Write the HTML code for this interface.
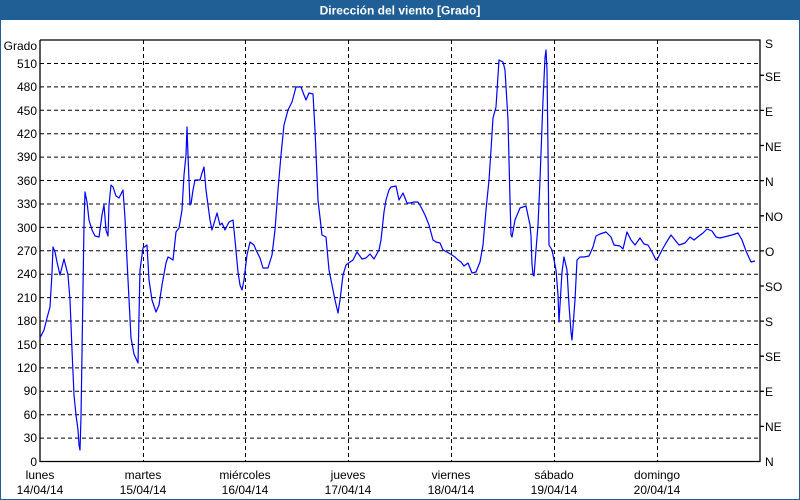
<!DOCTYPE html>
<html><head><meta charset="utf-8"><style>
html,body{margin:0;padding:0;background:#fff;}
svg{display:block;}
text{font-family:"Liberation Sans",sans-serif;font-size:12px;fill:#000;}
</style></head><body>
<svg width="800" height="500" viewBox="0 0 800 500">
<rect x="0" y="0" width="800" height="500" fill="#fff"/>
<rect x="0.5" y="0.5" width="799" height="499" fill="none" stroke="#1f5f95" stroke-width="1"/>
<rect x="0" y="0" width="800" height="20" fill="#1f5f95"/>
<text x="400" y="14.5" text-anchor="middle" style="fill:#fff;font-weight:bold;font-size:12px">Dirección del viento [Grado]</text>
<g stroke="#000" stroke-width="1" stroke-dasharray="4,3" fill="none">
<path d="M40 63.5H760M40 86.9H760M40 110.3H760M40 133.7H760M40 157.1H760M40 180.5H760M40 204H760M40 227.4H760M40 250.8H760M40 274.2H760M40 297.6H760M40 321H760M40 344.5H760M40 367.9H760M40 391.3H760M40 414.7H760M40 438.1H760"/>
<path d="M143.5 40V461M245.5 40V461M348.5 40V461M451.5 40V461M554.5 40V461M657.5 40V461"/>
</g>
<g stroke="#000" stroke-width="1.3" fill="none">
<path d="M40 40V461.5H760V40H40"/>
<path d="M760 75.3h4M760 110.4h4M760 145.5h4M760 180.6h4M760 215.8h4M760 250.9h4M760 286h4M760 321.1h4M760 356.2h4M760 391.3h4M760 426.4h4"/>
</g>
<g text-anchor="end">
<text x="37" y="50">Grado</text>
<text x="37" y="68">510</text><text x="37" y="91">480</text><text x="37" y="115">450</text>
<text x="37" y="138">420</text><text x="37" y="161">390</text><text x="37" y="185">360</text>
<text x="37" y="208">330</text><text x="37" y="232">300</text><text x="37" y="255">270</text>
<text x="37" y="278">240</text><text x="37" y="302">210</text><text x="37" y="325">180</text>
<text x="37" y="349">150</text><text x="37" y="372">120</text><text x="37" y="395">90</text>
<text x="37" y="419">60</text><text x="37" y="442">30</text><text x="37" y="466">0</text>
</g>
<g>
<text x="765" y="48">S</text><text x="765" y="81">SE</text><text x="765" y="116">E</text>
<text x="765" y="151">NE</text><text x="765" y="186">N</text><text x="765" y="221">NO</text>
<text x="765" y="256">O</text><text x="765" y="291">SO</text><text x="765" y="326">S</text>
<text x="765" y="361">SE</text><text x="765" y="396">E</text><text x="765" y="431">NE</text>
<text x="765" y="466">N</text>
</g>
<g text-anchor="middle">
<text x="40" y="479">lunes</text><text x="40" y="494">14/04/14</text>
<text x="143" y="479">martes</text><text x="143" y="494">15/04/14</text>
<text x="245" y="479">miércoles</text><text x="245" y="494">16/04/14</text>
<text x="348" y="479">jueves</text><text x="348" y="494">17/04/14</text>
<text x="451" y="479">viernes</text><text x="451" y="494">18/04/14</text>
<text x="554" y="479">sábado</text><text x="554" y="494">19/04/14</text>
<text x="657" y="479">domingo</text><text x="657" y="494">20/04/14</text>
</g>
<polyline fill="none" stroke="#0000ff" stroke-width="1.2" stroke-linejoin="round" points="
40,338 44,330 47,318 50,307 52,273 53,247 55,252 57,262 60,275 62,267 64,259 66,267 68,275 70,300 72,350 74,395 76,415 78,430 79,445 80,450 81,417 82,353 83,288 84,225 85,192 87,202 89,220 92,230 95,236 99,237 102,215 104,205 106,230 108,236 109,205 111,185 113,187 116,196 119,198 123,190 125,218 127,260 131,338 134,354 138,363 140,270 143,248 147,245 149,280 152,300 156,312 159,305 162,285 166,263 168,257 170,258 173,260 176,232 179,228 182,210 184,175 186,155 187,127 188,155 190,205 191,204 193,190 195,180 200,180 202,173 204,167 206,190 208,205 210,220 212,230 215,220 217,213 220,225 222,223 225,230 229,222 233,220 235,240 238,272 240,285 242,290 244,280 247,255 250,242 254,245 256,250 260,258 263,268 268,268 272,255 275,230 278,190 281,155 284,125 288,110 292,102 296,87 301,87 304,95 306,100 309,93 313,94 315,130 318,200 322,235 326,237 329,270 332,285 335,300 338,313 340,300 343,275 346,265 350,262 353,260 357,252 362,259 366,258 370,254 374,259 379,250 381,240 384,212 386,200 389,190 391,187 396,186 399,200 403,193 407,203 410,203 414,202 418,202 421,207 425,215 429,225 433,240 436,242 440,243 443,250 447,252 452,255 455,257 458,260 461,262 464,266 468,263 472,273 476,272 480,262 483,245 486,210 489,180 491,150 493,118 496,107 499,60 503,62 505,70 508,120 510,200 511,235 512,237 515,220 520,208 526,206 530,225 531,236 532,264 533,275 534,276 536,250 538,225 540,180 543,100 545,58 546,50 547,70 548,150 549,245 552,250 556,270 558,295 559,322 562,272 564,257 567,270 569,305 571,332 572,340 575,300 577,260 580,257 584,257 589,256 593,247 596,236 600,234 606,232 611,237 614,245 620,246 623,249 627,232 631,240 635,245 640,238 644,244 648,245 652,252 656,260 658,258 662,250 666,243 671,235 675,240 679,245 685,243 690,237 694,240 699,236 703,233 707,229 712,231 716,237 720,238 724,237 728,236 732,235 738,233 742,240 746,251 751,262 755,261"/>
</svg>
</body></html>
